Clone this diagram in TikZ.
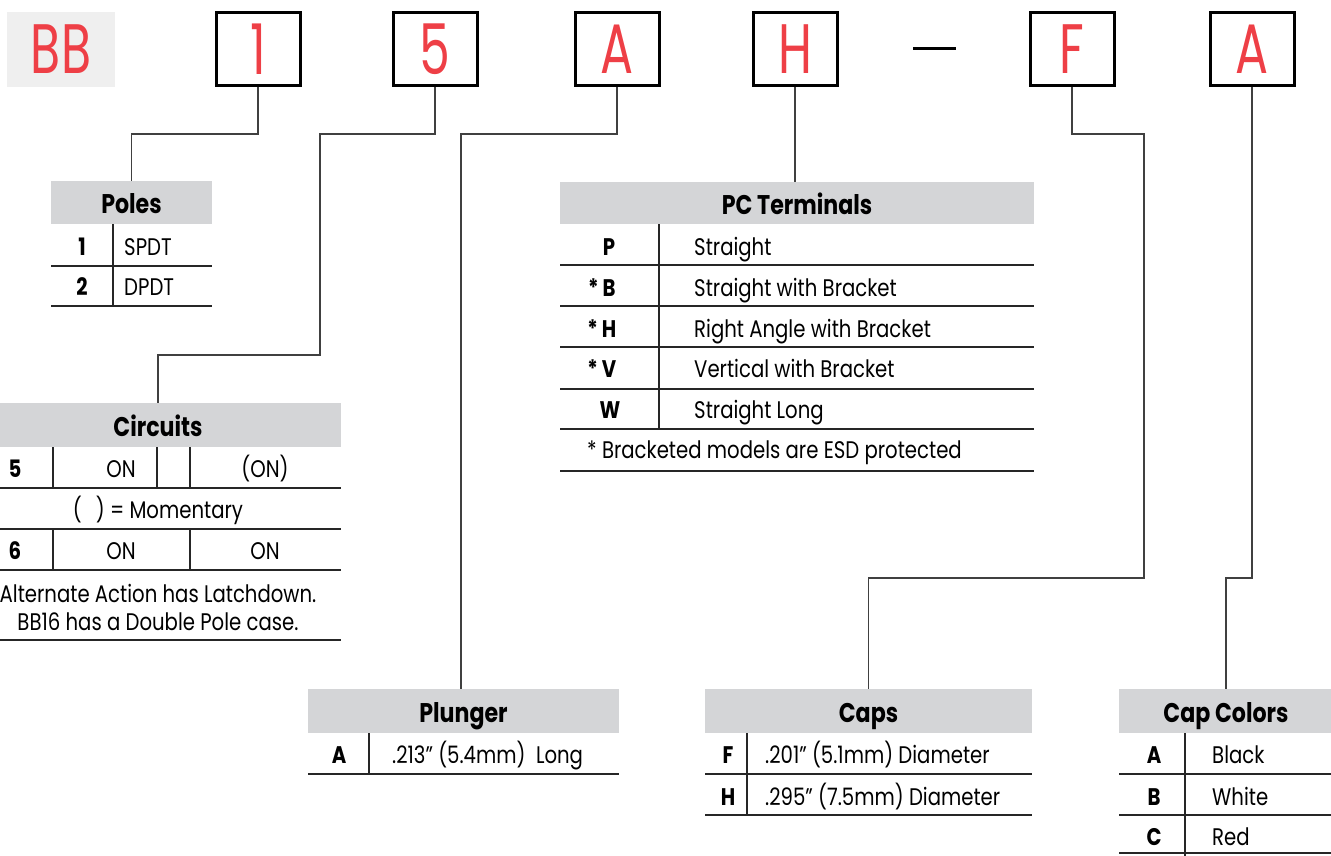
\documentclass[tikz,border=0pt]{standalone}
\usepackage{fontspec}
\setmainfont{Poppins}[FakeStretch=0.82]
\newfontfamily\redfont{Poppins}[FakeStretch=0.70]
\definecolor{redc}{HTML}{EE3F46}
\definecolor{hdr}{HTML}{D4D5D7}
\definecolor{bbg}{HTML}{EFEFEF}
\begin{document}
\begin{tikzpicture}[x=1pt,y=-1pt,
 codebox/.style={draw=black, line width=3pt, minimum width=84pt, minimum height=73pt, inner sep=0pt, text=redc, font=\redfont\fontsize{70}{70}\selectfont},
 hdrbox/.style={fill=hdr, inner sep=0pt, text height=22pt, text depth=0pt, font=\bfseries\fontsize{27}{30}\selectfont},
 rule/.style={line width=1.6pt, draw=black!85},
 conn/.style={line width=1.5pt, draw=black!75},
 key/.style={anchor=base, inner sep=0pt, font=\bfseries\fontsize{24}{28}\selectfont},
 txt/.style={anchor=base west, inner sep=0pt, font=\fontsize{24}{28}\selectfont},
 ctxt/.style={anchor=base, inner sep=0pt, font=\fontsize{24}{28}\selectfont},
]
\useasboundingbox (0,0) rectangle (1331,856);
\clip (0,0) rectangle (1331,856);

% top code row
\node[fill=bbg, minimum width=108pt, minimum height=75pt, inner sep=0pt, text=redc, font=\redfont\fontsize{70}{70}\selectfont] (bb) at (61,49.5) {BB};
\node[codebox] (b1) at (258,49.5) {1};
\node[codebox] (b5) at (435,49.5) {5};
\node[codebox] (bA) at (617,49.5) {A};
\node[codebox] (bH) at (795,49.5) {H};
\node[codebox] (bF) at (1072,49.5) {F};
\node[codebox] (bA2) at (1252,49.5) {A};
\coordinate (dashL) at (913,49);
\coordinate (dashR) at (956,49);
\draw[line width=3pt] (dashL) -- (dashR);

% Poles
\node[hdrbox, minimum width=161pt, minimum height=43pt] (poles) at (131.5,202.5) {Poles};
\draw[rule] (51,266) -- (212,266);
\draw[rule] (51,306) -- (212,306);
\draw[rule] (113,224) -- (113,306);
\node[key] (p1k) at (82,255) {1};
\node[txt] (p1t) at (124,255) {SPDT};
\node[key] (p2k) at (82,295) {2};
\node[txt] (p2t) at (124,295) {DPDT};

% Circuits
\node[hdrbox, minimum width=366pt, minimum height=44pt] (circ) at (158,425) {Circuits};
\draw[rule] (-25,488) -- (341,488);
\draw[rule] (-25,529) -- (341,529);
\draw[rule] (-25,570) -- (341,570);
\draw[rule] (-25,640) -- (341,640);
\draw[rule] (53,447) -- (53,488);
\draw[rule] (157,447) -- (157,488);
\draw[rule] (190,447) -- (190,488);
\draw[rule] (53,529) -- (53,570);
\draw[rule] (190,529) -- (190,570);
\node[key] (c5k) at (15,477) {5};
\node[ctxt] (c5a) at (121,477) {ON};
\node[ctxt] (c5b) at (265,477) {(ON)};
\node[ctxt] (cmom) at (158,518) {(\hspace{14pt}) = Momentary};
\node[key] (c6k) at (15,559) {6};
\node[ctxt] (c6a) at (121,559) {ON};
\node[ctxt] (c6b) at (265,559) {ON};
\node[ctxt] (cn1) at (158,602) {Alternate Action has Latchdown.};
\node[ctxt] (cn2) at (158,630) {BB16 has a Double Pole case.};

% PC Terminals
\node[hdrbox, minimum width=474pt, minimum height=42pt] (pct) at (797,203) {PC Terminals};
\foreach \yy in {265,306,347,389,429,471} \draw[rule] (560,\yy) -- (1034,\yy);
\draw[rule] (659,224) -- (659,429);
\node[key] (tPk) at (609,255) {P};
\node[txt] (tPt) at (694,255) {Straight};
\node[key] (tBk) at (609,296) {\llap{*\,}B};
\node[txt] (tBt) at (694,296) {Straight with Bracket};
\node[key] (tHk) at (609,337) {\llap{*\,}H};
\node[txt] (tHt) at (694,337) {Right Angle with Bracket};
\node[key] (tVk) at (609,377) {\llap{*\,}V};
\node[txt] (tVt) at (694,377) {Vertical with Bracket};
\node[key] (tWk) at (610,418) {W};
\node[txt] (tWt) at (694,418) {Straight Long};
\node[txt] (tnote) at (587,458) {* Bracketed models are ESD protected};

% Plunger
\node[hdrbox, minimum width=311pt, minimum height=44pt] (plg) at (463.5,711) {Plunger};
\draw[rule] (308,774) -- (619,774);
\draw[rule] (369,733) -- (369,774);
\node[key] (plk) at (339,763) {A};
\node[txt] (plt) at (392,763) {.213” (5.4mm)\ \ Long};

% Caps
\node[hdrbox, minimum width=327pt, minimum height=44pt] (caps) at (868.5,711) {Caps};
\draw[rule] (705,774) -- (1032,774);
\draw[rule] (705,815) -- (1032,815);
\draw[rule] (747,733) -- (747,815);
\node[key] (cFk) at (728,763) {F};
\node[txt] (cFt) at (765,763) {.201” (5.1mm) Diameter};
\node[key] (cHk) at (728,805) {H};
\node[txt] (cHt) at (765,805) {.295” (7.5mm) Diameter};

% Cap Colors
\node[hdrbox, minimum width=214pt, minimum height=44pt] (ccol) at (1226,711) {Cap Colors};
\draw[rule] (1119,774) -- (1331,774);
\draw[rule] (1119,815) -- (1331,815);
\draw[rule] (1119,853) -- (1331,853);
\draw[rule] (1185,733) -- (1185,856);
\node[key] (kA) at (1154,763) {A};
\node[txt] (kAt) at (1212,763) {Black};
\node[key] (kB) at (1154,805) {B};
\node[txt] (kBt) at (1212,805) {White};
\node[key] (kC) at (1154,845) {C};
\node[txt] (kCt) at (1212,845) {Red};

% connectors
\draw[conn] (b1.south) -- (b1.south |- 0,134) -| (poles.north);
\draw[conn] (b5.south) -- (b5.south |- 0,134) -| (320,355) -| (circ.north);
\draw[conn] (bA.south) -- (bA.south |- 0,134) -| (461,689);
\draw[conn] (bH.south) -- (bH.south |- pct.north);
\draw[conn] (bF.south) -- (bF.south |- 0,134) -| (1144,578) -| (caps.north);
\draw[conn] (bA2.south) -- (bA2.south |- 0,578) -| (ccol.north);
\end{tikzpicture}
\end{document}
